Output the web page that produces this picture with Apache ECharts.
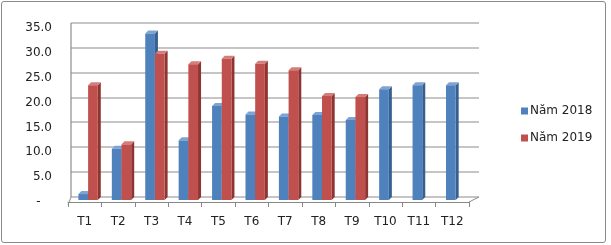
<!DOCTYPE html>
<html>
<head>
<meta charset="utf-8">
<script src="https://cdn.jsdelivr.net/npm/echarts@6/dist/echarts.min.js"></script>
<style>
html,body{margin:0;padding:0;background:#fff;}
#wrap{position:relative;width:611px;height:245px;}
#chart{position:absolute;left:0;top:0;width:611px;height:245px;}
#frame{position:absolute;left:1px;top:1px;width:605px;height:242px;box-sizing:border-box;border:1px solid #8a8a8a;border-radius:3px;pointer-events:none;}
</style>
</head>
<body>
<div id="wrap"><div id="chart"></div><div id="frame"></div></div>
<script>
var categories = ['T1','T2','T3','T4','T5','T6','T7','T8','T9','T10','T11','T12'];
var values2018 = [1.6, 10.7, 33.9, 12.4, 19.3, 17.6, 17.2, 17.5, 16.5, 22.7, 23.5, 23.5];
var values2019 = [23.5, 11.6, 29.8, 27.7, 28.8, 27.8, 26.5, 21.3, 21.1, null, null, null];
var yTicks = [0, 5, 10, 15, 20, 25, 30, 35];
var seriesNames = ['Năm 2018', 'Năm 2019'];

var FRONT = ['#4F81BD', '#C0504D'];
var SIDE = ['#35608F', '#8E3532'];
var TOP = ['#7FA3D3', '#D47E7B'];
var WALL = '#8c8c8c';
var WALL_DX = 3, WALL_DY = -5;

function makeRender(k) {
  return function (params, api) {
    var v = api.value(1);
    if (v == null || isNaN(v)) return;
    var idx = api.value(0);
    var top = api.coord([idx, v]);
    var base = api.coord([idx, 0]);
    var band = api.size([1, 0])[0];
    var w = band * 0.29;
    var cx = top[0];
    var x0 = k === 0 ? cx - w * 0.65 : cx + w * 0.35;
    var x1 = x0 + w;
    var d = 3;
    var y0 = top[1], yb = base[1] - 2;
    return {
      type: 'group',
      children: [
        {type: 'polygon', shape: {points: [[x1, y0], [x1 + d, y0 - d], [x1 + d, yb - d], [x1, yb]]}, style: {fill: SIDE[k]}},
        {type: 'polygon', shape: {points: [[x0, y0], [x0 + d, y0 - d], [x1 + d, y0 - d], [x1, y0]]}, style: {fill: TOP[k]}},
        {type: 'rect', shape: {x: x0, y: y0, width: w, height: yb - y0}, style: {fill: FRONT[k]}}
      ]
    };
  };
}

function renderWall(params, api) {
  var idx = params.dataIndex;
  var t = yTicks[idx];
  var cs = params.coordSys;
  var y = Math.round(api.coord([0, t])[1] + WALL_DY);
  var xl = Math.round(cs.x + WALL_DX), xr = Math.round(cs.x + cs.width + 10);
  var children = [
    {type: 'polygon', shape: {points: [[xl, y - 0.6], [xr, y - 0.6], [xr, y + 0.6], [xl, y + 0.6]]},
     style: {fill: WALL, stroke: null}}
  ];
  if (idx === 0) {
    var yTop = Math.round(api.coord([0, yTicks[yTicks.length - 1]])[1] + WALL_DY);
    var yFront = api.coord([0, 0])[1];
    children.push({type: 'polygon', shape: {points: [[xl - 0.6, yTop], [xl + 0.6, yTop], [xl + 0.6, y], [xl - 0.6, y]]}, style: {fill: WALL, stroke: null}});
    children.push({type: 'line', shape: {x1: cs.x, y1: yFront + 3, x2: xl, y2: y}, style: {stroke: WALL, lineWidth: 1}});
    children.push({type: 'line', shape: {x1: cs.x + cs.width, y1: yFront, x2: xr, y2: y}, style: {stroke: WALL, lineWidth: 1}});
  }
  return {type: 'group', children: children};
}

var chart = echarts.init(document.getElementById('chart'), null, {renderer: 'canvas'});
chart.setOption({
  animation: false,
  backgroundColor: '#ffffff',
  grid: {left: 68, right: 142, top: 28, bottom: 43},
  xAxis: {type: 'category', data: categories,
     axisLine: {lineStyle: {color: '#888', width: 1}},
     axisTick: {show: true, length: 5, lineStyle: {color: '#888'}},
     axisLabel: {color: '#222', fontFamily: 'DejaVu Sans', fontSize: 12, margin: 14}},
  yAxis: {type: 'value', min: 0, max: 35, interval: 5,
     axisLine: {show: false}, axisTick: {show: false}, splitLine: {show: false},
     axisLabel: {color: '#222', fontFamily: 'DejaVu Sans', fontSize: 12, margin: 16,
       formatter: function (v) { return v === 0 ? '-   ' : v.toFixed(1); }}},
  legend: {
    orient: 'vertical', left: 516, top: 100, itemWidth: 7, itemHeight: 7, itemGap: 15,
    icon: 'rect',
    textStyle: {color: '#222', fontFamily: 'DejaVu Sans', fontSize: 12, padding: [0, 0, 0, -3]},
    data: seriesNames
  },
  series: [
    {name: 'wall', type: 'custom', renderItem: renderWall, silent: true, z: 1, clip: false,
     encode: {x: 0, y: 1}, data: yTicks.map(function (t) { return [0, t]; })},
    {name: seriesNames[0], type: 'custom',
     itemStyle: {color: FRONT[0]}, renderItem: makeRender(0),
     encode: {x: 0, y: 1}, z: 5,
     data: values2018.map(function (v, i) { return [i, v]; })},
    {name: seriesNames[1], type: 'custom',
     itemStyle: {color: FRONT[1]}, renderItem: makeRender(1),
     encode: {x: 0, y: 1}, z: 5,
     data: values2019.map(function (v, i) { return [i, v]; })}
  ]
});
</script>
</body>
</html>
